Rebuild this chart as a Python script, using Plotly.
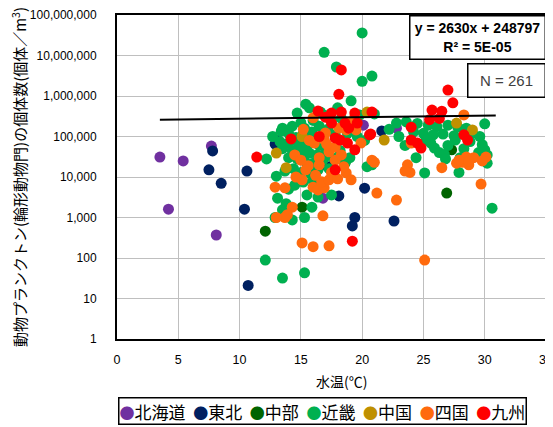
import plotly.graph_objects as go

# 地域ごとのデータ (水温, 個体数)
regions = ["北海道", "東北", "中部", "近畿", "中国", "四国", "九州"]
colors = ["#7030A0", "#002060", "#006400", "#00B050", "#BF9000", "#FF6A0D", "#FF0000"]

hokkaido_x = [3.5, 5.4, 7.7, 4.2, 8.1, 22.8, 16.8, 20.1]
hokkaido_y = [31000, 25000, 58000, 1600, 370, 160000, 3000, 190000]

tohoku_x = [7.8, 7.5, 8.5, 10.6, 10.4, 10.7, 12.9, 13.1, 20.2, 19.4, 19.2, 22.6, 21.6, 18.1, 17.2]
tohoku_y = [44000, 15000, 7000, 14000, 1600, 21, 65000, 80000, 5300, 1000, 620, 820, 137000, 3400, 18000]

chubu_x = [12.1, 15.1, 26.9, 27.3, 18.6]
chubu_y = [460, 1800, 4000, 47000, 22000]

kinki_x = [20.0, 16.9, 17.9, 20.8, 20.0, 19.1, 15.4, 15.7, 14.7, 18.0, 16.6, 17.0, 19.8, 21.0,
           13.5, 15.3, 13.4, 14.0, 15.2, 15.9, 12.7, 14.6, 15.5, 16.2, 13.3, 14.0, 14.8, 15.5, 16.5,
           12.2, 13.5, 14.3, 15.0, 15.7, 16.3, 17.0, 14.0, 14.7, 15.3, 16.0, 16.8, 13.0, 13.7, 14.4,
           15.0, 15.8, 16.4, 17.3, 18.6, 17.6, 18.2, 19.0,
           14.5, 15.2, 16.0, 13.1, 15.5, 17.5, 16.4, 13.5, 15.9, 12.9, 14.3, 15.3, 13.8, 12.1, 13.5,
           15.3, 14.0,
           17.5, 18.5, 19.3, 16.5, 17.2, 18.8, 19.6, 20.2, 17.8, 18.3, 16.0, 15.0, 14.3,
           20.8, 20.4,
           22.8, 23.6, 24.5, 25.4, 26.1, 27.0, 27.8, 28.5, 30.0, 24.2, 25.0, 25.8, 26.6, 27.5, 29.0,
           29.6, 25.2, 25.6, 25.9, 26.3, 26.7, 27.6, 28.8, 29.8, 30.0, 30.2, 29.5, 27.0, 28.3, 25.1,
           27.9, 30.2, 26.8, 24.4, 23.0, 22.2, 28.0, 30.6, 23.5]
kinki_y = [3.6e7, 1.2e7, 5.2e6, 3.1e6, 2.3e6, 7.6e5, 6.3e5, 5.1e5, 3.8e5, 5.1e5, 4.0e5, 3.3e5, 3.4e5, 3.6e5,
           1.6e5, 1.6e5, 1.35e5, 1.2e5, 1.2e5, 1.3e5, 1.0e5, 9.5e4, 9.0e4, 8.0e4, 7.5e4, 7.0e4, 6.5e4, 6.0e4, 6.0e4,
           2.8e4, 5.0e4, 4.5e4, 4.2e4, 3.9e4, 3.5e4, 4.0e4, 3.0e4, 2.8e4, 2.5e4, 2.2e4, 2.6e4, 1.05e4, 1.4e4, 1.6e4,
           1.3e4, 1.2e4, 1.5e4, 1.6e4, 2.2e4, 3.0e4, 4.5e4, 3.0e4,
           6300, 7500, 8000, 3000, 3600, 3600, 3200, 1550, 1800, 1000, 870, 1000, 2200, 89, 32,
           43, 5000,
           2.5e5, 2.0e5, 1.6e5, 1.8e5, 1.5e5, 1.2e5, 1.0e5, 8.0e4, 1.1e5, 2.8e5, 2.5e5, 2.2e5, 1.8e5,
           2.0e4, 1.8e4,
           2.15e5, 2.3e5, 2.1e5, 1.9e5, 1.75e5, 1.9e5, 1.7e5, 1.6e5, 2.05e5, 1.3e5, 1.2e5, 1.1e5, 1.15e5, 1.05e5, 1.2e5,
           1.0e5, 8.2e4, 6.9e4, 5.2e4, 4.0e4, 3.6e4, 8.2e4, 7.5e4, 6.3e4, 4.7e4, 3.5e4, 4.0e4, 6.0e4, 5.0e4, 1.26e4,
           1.3e4, 2.2e4, 2.8e4, 3.0e4, 1.0e5, 1.5e5, 3.0e4, 1700, 6.0e4]

chugoku_x = [13.0, 15.1, 13.8, 21.8, 20.4, 27.7, 29.0]
chugoku_y = [39000, 100000, 17000, 82000, 400000, 215000, 145000]

shikoku_x = [16.0, 17.0, 16.1, 16.9, 18.7, 19.5, 19.9,
             15.6, 17.8, 18.7, 19.1, 15.1, 12.9, 13.7, 16.0, 16.4, 16.9, 16.7, 17.3, 14.3, 13.9, 13.7,
             13.0, 16.8, 15.1, 16.0, 17.3, 21.0, 20.8, 21.2, 22.8,
             14.5, 15.0, 16.5, 17.3, 17.8, 18.3, 15.4, 16.2, 17.5, 18.0, 14.6, 16.5, 18.5, 17.1, 15.7,
             18.1, 18.8, 17.2, 19.4, 15.2,
             23.7, 23.9, 23.5, 26.5, 27.7, 28.7, 28.2, 29.7, 25.1, 28.3, 24.0, 28.5, 29.1, 30.1, 27.9,
             28.7, 29.8]
shikoku_y = [2.9e5, 1.22e5, 6.9e4, 8.5e4, 1.45e5, 1.45e5, 6.9e4,
             1.9e4, 2.6e4, 1.26e4, 8500, 8500, 5600, 5400, 5600, 4800, 5400, 7600, 8500, 1800, 1170, 1000,
             1000, 1100, 235, 190, 200, 2.3e4, 2.6e4, 4000, 2700,
             3.5e4, 2.6e4, 3.0e4, 4.2e4, 5.5e4, 3.5e4, 1.5e4, 1.1e4, 1.3e4, 9000, 1.0e4, 2.0e4, 1.8e4, 6.5e4, 8.0e4,
             1.6e5, 2.2e5, 3.0e5, 3.0e5, 1.5e5,
             2.0e4, 1.3e4, 1.4e4, 1.7e4, 2.2e4, 2.0e4, 2.3e4, 6700, 89, 3.4e5, 6.9e4, 3.1e4, 3.0e4, 3.1e4, 2.6e4,
             2.4e4, 2.5e4]

kyushu_x = [11.4, 18.3, 18.1, 16.4, 17.5, 18.3, 19.4, 20.8, 17.5, 14.2, 17.8, 18.2, 18.8, 19.4, 20.7,
            17.8, 19.2, 27.0, 27.4, 25.7, 26.5, 26.3, 25.5, 24.0, 24.0, 24.5, 24.8, 28.3, 28.6, 18.6,
            19.6, 20.6, 16.5, 17.0, 18.9]
kyushu_y = [31000, 4.4e6, 1.1e6, 4.25e5, 3.8e5, 4.0e5, 3.8e5, 4.0e5, 2.15e5, 8.7e4, 9.2e4, 8.2e4, 6.9e4, 4.7e4, 1.15e5,
            1.5e4, 260, 1.4e6, 6.8e5, 4.5e5, 4.2e5, 2.8e5, 2.6e5, 1.7e5, 8.2e4, 6.9e4, 5.2e4, 1.1e5, 8.2e4, 2.15e5,
            2.15e5, 1.1e5, 1.0e5, 3.0e5, 1.6e5]

# 近似直線 y = 2630x + 248797
slope = 2630
intercept = 248797
r2_text = "5E-05"
trend_x = [3.5, 10, 15, 20, 25, 30.9]

ytick_vals = [1, 10, 100, 1000, 10000, 100000, 1000000, 10000000, 100000000]
ytick_text = ["1", "10", "100", "1,000", "10,000", "100,000", "1,000,000", "10,000,000", "100,000,000"]

xs = [hokkaido_x, tohoku_x, chubu_x, kinki_x, chugoku_x, shikoku_x, kyushu_x]
ys = [hokkaido_y, tohoku_y, chubu_y, kinki_y, chugoku_y, shikoku_y, kyushu_y]

fig = go.Figure()
for name, c, x, y in zip(regions, colors, xs, ys):
    fig.add_trace(go.Scatter(x=x, y=y, mode="markers", name=name,
                             marker=dict(color=c, size=11, line=dict(width=0))))

fig.add_trace(go.Scatter(x=trend_x, y=[slope * v + intercept for v in trend_x],
                         mode="lines", line=dict(color="black", width=2), showlegend=False))

# 凡例 (枠付き)
legend_txt = "  ".join(
    "<span style='color:%s;font-size:15px'>●</span>%s" % (c, r) for r, c in zip(regions, colors))

# ページの余白 (8px) 分を差し引いて配置
fig.update_layout(
    width=545, height=419,
    margin=dict(l=109, r=7, t=7, b=88),
    paper_bgcolor="white", plot_bgcolor="white",
    showlegend=False,
    font=dict(family="Noto Sans CJK JP", color="black"),
    xaxis=dict(range=[0, 35], dtick=5, showgrid=True, gridcolor="#BFBFBF", gridwidth=1,
               showline=True, linecolor="black", linewidth=2, mirror=True, zeroline=False,
               ticks="", ticklabelstandoff=8, automargin=False, ticklabeloverflow="allow",
               tickfont=dict(family="Liberation Sans", size=12.5)),
    yaxis=dict(type="log", range=[0, 8], tickvals=ytick_vals, ticktext=ytick_text,
               showgrid=True, gridcolor="#BFBFBF", gridwidth=1,
               showline=True, linecolor="black", linewidth=2, mirror=True, zeroline=False,
               ticks="", ticklabelstandoff=16, automargin=False,
               tickfont=dict(family="Liberation Sans", size=12),
               title=dict(text="動物プランクトン(輪形動物門)の個体数(個体／m<sup>3</sup>)",
                          font=dict(size=15), standoff=7)),
    annotations=[
        dict(xref="paper", yref="paper", x=0.523, y=-0.13, xanchor="center", yanchor="middle",
             text="水温(℃)", showarrow=False, font=dict(size=14)),
        dict(xref="paper", yref="paper", x=1, y=1, xanchor="right", yanchor="top",
             text="<b>y = %dx + %d<br>R² = %s</b>" % (slope, intercept, r2_text), showarrow=False,
             font=dict(family="Liberation Sans", size=14, color="black"),
             bgcolor="white", bordercolor="black", borderwidth=1.5, width=132, height=40),
        dict(xref="paper", yref="paper", x=1, y=0.852, xanchor="right", yanchor="top",
             text="N = %d" % 261, showarrow=False,
             font=dict(family="Liberation Sans", size=15, color="#404040"),
             bgcolor="white", bordercolor="black", borderwidth=1.5, width=74, height=30),
        dict(xref="paper", yref="paper", x=0.479, y=-0.222, xanchor="center", yanchor="middle",
             text=legend_txt, showarrow=False,
             font=dict(family="Noto Sans CJK JP", size=17, color="black"),
             bgcolor="white", bordercolor="black", borderwidth=1.5, borderpad=0),
    ],
)

fig.write_html("out.html", post_script="document.body.style.overflow='hidden';")
